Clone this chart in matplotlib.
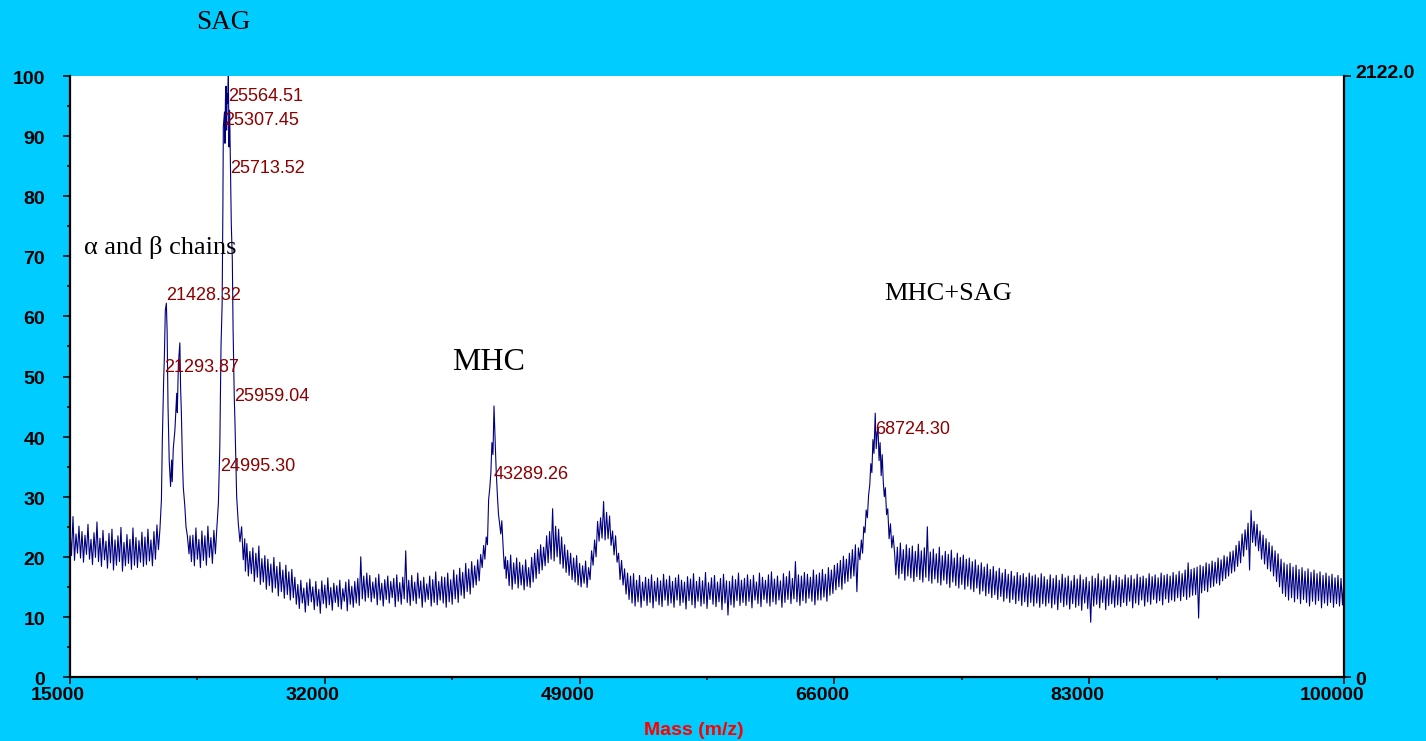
import numpy as np
import matplotlib.pyplot as plt
from matplotlib.transforms import ScaledTranslation

plt.rcParams['font.family'] = ['Liberation Sans', 'DejaVu Sans']

# MALDI spectrum (intensity, %). The noisy trace swings between the top and
# the bottom of its noise band, so it is kept as two interleaved readings:
# top of the band at 15000, 15200, ... 100000 and bottom at 15100, 15300, ... 99900
mass_top = np.arange(15000, 100001, 200)
band_top = [
    24.5, 26.7, 23.8, 25.1, 24.2, 23.6, 25.4, 22.9, 24.0, 25.8, 23.1, 24.4, 22.6, 23.9, 24.6, 22.8, 23.5, 24.9, 22.4, 23.7, 22.9, 24.8, 23.2, 22.7, 24.1,
    23.3, 24.6, 22.8, 24.2, 25.3, 24.6, 45.0, 62.0, 40.0, 36.0, 42.0, 50.0, 46.0, 32.0, 25.0, 23.0, 23.6, 24.8, 22.9, 24.3, 23.5, 25.1, 23.2, 24.4, 25.0,
    40.0, 80.0, 98.0, 92.0, 74.0, 45.0, 28.0, 23.0, 22.0, 22.2, 20.9, 21.5, 20.6, 21.8, 19.7, 20.2, 19.6, 18.8, 19.9, 18.4, 19.1, 17.8, 18.6, 17.5, 17.9,
    16.6, 15.4, 16.1, 14.8, 15.7, 16.3, 15.0, 15.9, 14.6, 16.0, 15.3, 16.5, 14.9, 15.6, 15.2, 16.1, 14.7, 15.8, 16.2, 15.1, 15.9, 16.4, 20.0, 16.8, 17.3,
    16.9, 15.8, 16.5, 17.1, 15.6, 16.2, 16.8, 15.9, 16.4, 17.0, 15.7, 16.6, 21.0, 16.1, 16.9, 15.8, 17.3, 16.0, 16.6, 15.5, 16.8, 16.2, 17.5, 15.9, 16.7,
    16.6, 17.3, 16.2, 17.8, 17.0, 18.1, 17.4, 18.9, 18.0, 19.2, 18.5, 19.5, 20.4, 21.0, 22.0, 24.0, 38.0, 42.0, 32.0, 26.0, 22.0, 19.4, 20.3, 19.0, 19.8,
    19.1, 18.6, 19.5, 18.2, 19.9, 20.6, 21.2, 22.0, 21.6, 23.5, 24.2, 28.0, 25.1, 24.6, 23.3, 22.0, 21.1, 20.6, 19.8, 20.2, 18.9, 18.5, 19.3, 18.2, 21.0,
    22.8, 25.9, 26.5, 29.2, 27.4, 26.8, 24.3, 23.5, 20.6, 19.4, 18.0, 17.3, 16.8, 17.2, 16.1, 16.9, 15.8, 16.6, 16.3, 17.0, 15.9, 16.5, 16.0, 17.1, 16.2,
    16.8, 15.9, 16.5, 17.0, 16.1, 15.8, 16.7, 16.3, 17.2, 15.9, 16.6, 16.0, 17.4, 15.7, 16.5, 16.9, 15.8, 16.4, 17.1, 16.0, 15.9, 16.8, 16.2, 17.3, 16.1,
    16.4, 17.0, 16.2, 16.9, 15.8, 17.3, 16.6, 16.1, 17.0, 17.5, 16.3, 16.8, 16.0, 17.2, 16.7, 17.6, 16.4, 19.2, 17.0, 16.8, 17.4, 17.1, 16.6, 17.8, 17.0,
    17.3, 17.9, 17.1, 18.2, 17.8, 18.6, 18.9, 19.4, 20.1, 19.6, 20.6, 21.2, 22.0, 21.5, 23.0, 26.0, 31.0, 37.0, 41.0, 39.0, 37.0, 31.0, 27.0, 24.0, 22.5,
    22.0, 21.6, 22.3, 21.2, 22.0, 21.4, 21.8, 20.9, 22.1, 21.0, 21.5, 25.0, 20.8, 21.3, 20.5, 21.6, 20.2, 20.9, 20.4, 21.1, 19.8, 20.6, 19.9, 20.3, 19.6,
    19.8, 19.2, 19.5, 18.6, 19.0, 18.3, 18.8, 17.9, 18.4, 17.6, 18.1, 17.3, 17.9, 17.1, 17.6, 16.8, 17.4, 16.9, 17.2, 16.6, 17.3, 16.8, 17.0, 16.5, 17.2,
    16.7, 16.2, 17.0, 16.4, 16.9, 16.1, 17.1, 16.5, 16.8, 16.0, 16.9, 16.3, 17.0, 16.2, 16.6, 15.9, 16.8, 16.4, 17.2, 16.1, 16.7, 16.3, 17.0, 16.0, 16.9,
    16.6, 16.2, 17.0, 16.5, 16.9, 16.3, 17.1, 16.6, 16.8, 16.4, 17.2, 16.7, 17.0, 16.5, 17.3, 16.9, 17.1, 16.8, 17.4, 17.0, 17.6, 17.2, 17.8, 19.0, 17.9,
    18.1, 18.3, 18.6, 18.4, 19.0, 18.8, 19.3, 19.1, 19.8, 19.5, 20.2, 20.0, 20.8, 21.0, 21.9, 22.6, 23.8, 24.5, 25.6, 27.7, 25.9, 25.4, 24.3, 23.6, 23.0,
    22.4, 21.8, 21.0, 20.5, 19.6, 19.0, 18.7, 18.9, 18.3, 18.6, 17.9, 18.2, 17.6, 18.0, 17.4, 17.8, 17.2, 17.5, 16.9, 17.3, 16.8, 17.1, 16.5, 16.9, 16.4, 16.6,
]

mass_bottom = np.arange(15100, 100000, 200)
band_bottom = [
    20.2, 19.4, 20.6, 19.8, 19.1, 20.4, 19.6, 18.7, 19.9, 19.2, 18.4, 19.5, 18.1, 19.0, 17.8, 18.6, 19.2, 17.6, 18.5, 18.9, 17.9, 18.6, 18.2, 19.1, 18.4,
    18.7, 19.3, 18.5, 19.6, 21.0, 30.0, 52.0, 45.0, 32.0, 38.0, 46.0, 48.0, 36.0, 26.0, 22.0, 19.2, 18.5, 19.6, 18.2, 19.4, 18.6, 19.9, 18.9, 20.0, 29.0,
    60.0, 90.0, 96.0, 84.0, 50.0, 30.0, 23.0, 21.0, 17.6, 16.8, 17.2, 15.9, 16.6, 15.4, 15.8, 14.6, 15.2, 14.1, 14.8, 13.5, 14.2, 13.1, 13.7, 12.8, 13.2,
    12.1, 11.4, 12.3, 10.8, 11.9, 12.5, 11.2, 11.8, 10.6, 12.2, 11.5, 12.0, 11.1, 12.4, 11.7, 11.3, 12.6, 11.0, 12.1, 11.6, 12.3, 11.9, 13.0, 12.6, 13.2,
    12.5, 13.1, 12.0, 12.8, 11.8, 12.9, 12.3, 13.2, 11.7, 12.6, 12.1, 13.0, 12.4, 11.9, 12.7, 12.2, 13.1, 11.6, 12.5, 12.9, 11.8, 12.4, 12.0, 12.8, 12.3,
    11.6, 12.5, 12.1, 13.0, 12.4, 13.6, 13.1, 14.2, 13.8, 14.9, 15.3, 16.0, 18.0, 21.0, 26.0, 36.0, 40.0, 30.0, 24.0, 21.0, 16.4, 15.2, 14.6, 15.5, 14.8,
    15.3, 14.5, 15.1, 14.9, 15.8, 16.4, 17.2, 17.8, 18.5, 19.0, 19.6, 19.3, 20.0, 18.8, 18.1, 17.4, 16.9, 16.2, 15.8, 15.3, 15.0, 15.6, 14.9, 16.2, 18.6,
    20.0, 22.6, 23.1, 22.8, 23.0, 21.9, 20.3, 19.1, 16.2, 15.3, 13.8, 12.9, 12.3, 11.8, 12.5, 11.6, 12.7, 11.9, 12.4, 11.5, 12.6, 12.0, 11.7, 12.8, 11.9,
    12.3, 11.6, 12.8, 11.9, 12.4, 11.3, 12.7, 12.0, 11.5, 12.6, 11.8, 12.2, 11.4, 12.9, 12.1, 11.7, 12.5, 11.2, 12.3, 10.3, 12.0, 11.6, 12.7, 11.9, 12.4,
    11.9, 12.6, 11.5, 12.8, 12.2, 11.7, 12.9, 12.3, 11.8, 12.5, 12.1, 12.8, 11.6, 12.4, 12.9, 12.2, 13.0, 12.5, 11.9, 12.7, 12.3, 13.1, 12.6, 12.0, 12.8,
    12.8, 13.3, 12.6, 13.6, 13.9, 14.5, 15.0, 14.6, 15.6, 15.9, 16.4, 16.8, 14.2, 20.0, 24.0, 28.0, 34.0, 39.0, 37.0, 35.0, 30.0, 27.0, 24.0, 22.0, 20.0,
    17.0, 16.4, 17.2, 16.1, 16.8, 16.5, 15.9, 16.7, 16.2, 15.8, 16.6, 16.0, 15.6, 16.3, 15.7, 15.3, 16.1, 15.5, 14.9, 15.8, 15.2, 14.8, 15.4, 14.6, 15.1,
    14.6, 14.2, 14.8, 13.8, 14.3, 13.5, 13.9, 13.2, 13.7, 12.9, 13.4, 12.6, 13.1, 12.4, 12.9, 12.2, 12.7, 11.9, 12.5, 11.7, 12.4, 11.8, 12.3, 11.6, 12.2,
    11.8, 12.3, 11.5, 12.1, 11.2, 12.4, 11.7, 12.0, 11.3, 12.2, 11.6, 11.9, 11.1, 12.3, 11.4, 9.1, 11.8, 12.1, 11.5, 12.4, 11.2, 11.9, 12.2, 11.6, 12.0,
    11.7, 12.4, 11.9, 12.6, 11.5, 12.3, 12.0, 12.8, 11.8, 12.5, 12.1, 12.9, 12.3, 12.7, 12.0, 13.0, 12.4, 12.8, 12.6, 13.2, 12.7, 13.4, 12.9, 13.3, 13.6,
    13.7, 9.8, 14.0, 14.4, 14.2, 14.9, 15.1, 15.6, 15.3, 16.0, 16.4, 16.8, 17.3, 17.6, 18.4, 19.0, 20.1, 21.2, 17.8, 22.4, 21.8, 21.0, 19.6, 18.8, 18.0,
    17.6, 16.8, 15.9, 15.0, 13.9, 13.4, 12.8, 13.2, 12.5, 13.0, 12.2, 12.9, 12.4, 11.8, 12.6, 12.1, 12.7, 11.5, 12.3, 11.9, 12.4, 11.6, 12.2, 11.8, 12.0,
]

# finer sampling through the main peaks
ab_mass = [20900, 21000, 21100, 21160, 21250, 21293.87, 21360, 21428.32, 21480, 21540, 21620, 21710, 21780, 21820, 21890,
           22000, 22120, 22160, 22230, 22330, 22380, 22430, 22500, 22560, 22660, 22740, 22830, 22940, 23010]
ab_int = [21.2, 24.6, 29.5, 39.4, 49.6, 53.0, 61.0, 62.2, 57.5, 45.0, 36.0, 31.7, 36.1, 32.5, 38.0,
          41.1, 47.2, 44.0, 52.0, 55.6, 48.0, 44.0, 36.0, 31.5, 28.5, 25.0, 23.5, 20.5, 23.5]

sag_mass = [24700, 24790, 24900, 24995.30, 25075, 25150, 25200, 25230, 25307.45, 25340, 25370, 25410, 25450, 25490, 25520,
            25564.51, 25610, 25650, 25713.52, 25760, 25830, 25880, 25959.04, 26010, 26120, 26230, 26340, 26450, 26560, 26660]
sag_int = [20.5, 24.5, 28.9, 38.3, 55.0, 62.0, 78.0, 91.6, 94.0, 88.8, 96.0, 98.3, 91.0, 97.0, 95.5,
           100.0, 88.2, 94.3, 83.5, 75.5, 69.4, 58.0, 46.6, 42.0, 30.0, 25.5, 22.5, 25.0, 19.5, 23.0]

mhc_mass = [42500, 42600, 42680, 42770, 42850, 42930, 43010, 43080, 43150, 43220, 43289.26,
            43340, 43390, 43440, 43520, 43590, 43660, 43740, 43810, 43890, 43980, 44060]
mhc_int = [18.2, 21.9, 19.6, 23.3, 22.0, 29.5, 31.5, 34.0, 39.0, 37.0, 45.1,
           41.0, 37.5, 34.0, 30.0, 27.0, 25.6, 23.8, 26.0, 22.0, 18.0, 20.0]

cplx_mass = [67700, 67800, 67880, 67960, 68040, 68120, 68200, 68280, 68360, 68430, 68500, 68570, 68640, 68724.30, 68790, 68850,
             68910, 68980, 69050, 69120, 69190, 69260, 69330, 69400, 69480, 69560, 69650, 69740, 69830, 69920, 70020]
cplx_int = [19.5, 22.8, 20.6, 25.0, 24.0, 27.8, 26.5, 30.2, 32.0, 35.5, 34.0, 39.5, 37.2, 43.9, 38.0, 40.6,
            41.5, 36.0, 39.0, 33.5, 37.0, 32.5, 30.0, 31.5, 27.0, 28.0, 23.0, 25.5, 21.5, 23.5, 20.5]

# labelled peak masses
peak_mass = [21428.32, 21293.87, 25564.51, 25307.45, 25713.52, 25959.04, 24995.30, 43289.26, 68724.30]

max_counts = 2122.0

# interleave the band readings, then put the fine peak points in place of the coarse ones
m = np.concatenate([mass_top, mass_bottom]).astype(float)
y = np.concatenate([band_top, band_bottom]).astype(float)
for pm, pi in [(ab_mass, ab_int), (sag_mass, sag_int), (mhc_mass, mhc_int), (cplx_mass, cplx_int)]:
    keep = (m < pm[0]) | (m > pm[-1])
    m = np.concatenate([m[keep], pm])
    y = np.concatenate([y[keep], pi])
order = np.argsort(m)
m, y = m[order], y[order]

W, H = 1426, 741
bg = '#00ccff'
fig = plt.figure(figsize=(W / 100, H / 100), dpi=100, facecolor=bg)
ax = fig.add_axes([70 / W, 1 - 677 / H, (1344 - 70) / W, (677 - 76) / H])
ax.set_facecolor('white')

ax.plot(m, y, color='#000080', linewidth=0.8)

ax.set_xlim(15000, 100000)
ax.set_ylim(0, 100)
ax.set_xticks(np.arange(15000, 100001, 17000))
ax.set_xticks(np.arange(23500, 100000, 17000), minor=True)
ax.set_yticks(np.arange(0, 101, 10))
ax.set_yticks(np.arange(5, 100, 10), minor=True)

ax.spines['top'].set_visible(False)
ax.spines['right'].set_visible(False)
for side in ['left', 'bottom']:
    ax.spines[side].set_linewidth(1.6)

ax.tick_params(which='major', direction='out', length=5, width=1.1, labelsize=14)
ax.tick_params(which='minor', direction='out', length=2.5, width=1.1)
ax.tick_params(axis='x', pad=2.5)
ax.tick_params(axis='y', pad=13)

# right-hand counts axis
ax2 = ax.twinx()
ax2.set_ylim(0, max_counts)
ax2.set_yticks([0, max_counts])
ax2.set_yticklabels(['0', f'{max_counts:.1f}'])
for side in ['left', 'bottom', 'top']:
    ax2.spines[side].set_visible(False)
ax2.spines['right'].set_linewidth(1.6)
ax2.tick_params(axis='y', direction='out', length=5, width=1.1, labelsize=14, pad=3)

def shift(label, dx, dy):
    label.set_transform(label.get_transform() + ScaledTranslation(dx / 100, dy / 100, fig.dpi_scale_trans))

for lab in ax.get_xticklabels():
    lab.set_fontweight('bold')
    shift(lab, -12, 0)
for lab in ax.get_yticklabels():
    lab.set_fontweight('bold')
    shift(lab, 0, -1.5)
r_labels = ax2.get_yticklabels()
for lab in r_labels:
    lab.set_fontweight('bold')
shift(r_labels[0], 0, -1.5)
shift(r_labels[1], 0, 4)

# peak mass labels
label_y = [63.7, 51.7, 96.8, 92.8, 84.8, 46.9, 35.3, 33.9, 41.4]
for pm, ly in zip(peak_mass, label_y):
    ax.annotate(f'{pm:.2f}', xy=(pm, ly), xytext=(0, -4.4), textcoords='offset points',
                ha='left', va='baseline', fontsize=13, color='#8b0000')

# species names
serif = ['Liberation Serif', 'DejaVu Serif']
def name(x, y, s, size):
    fig.text(x / W, 1 - y / H, s, ha='left', va='baseline', fontsize=size, family=serif, color='black')

name(196, 29, 'SAG', 19.5)
name(84, 254, 'α and β chains', 19)
name(452, 370, 'MHC', 23)
name(884, 300, 'MHC+SAG', 19)

fig.text(694 / W, 1 - 735 / H, 'Mass (m/z)', ha='center', va='baseline',
         fontsize=14, fontweight='bold', color='#ff0000')

plt.savefig('out.png', dpi=100, facecolor=bg)
